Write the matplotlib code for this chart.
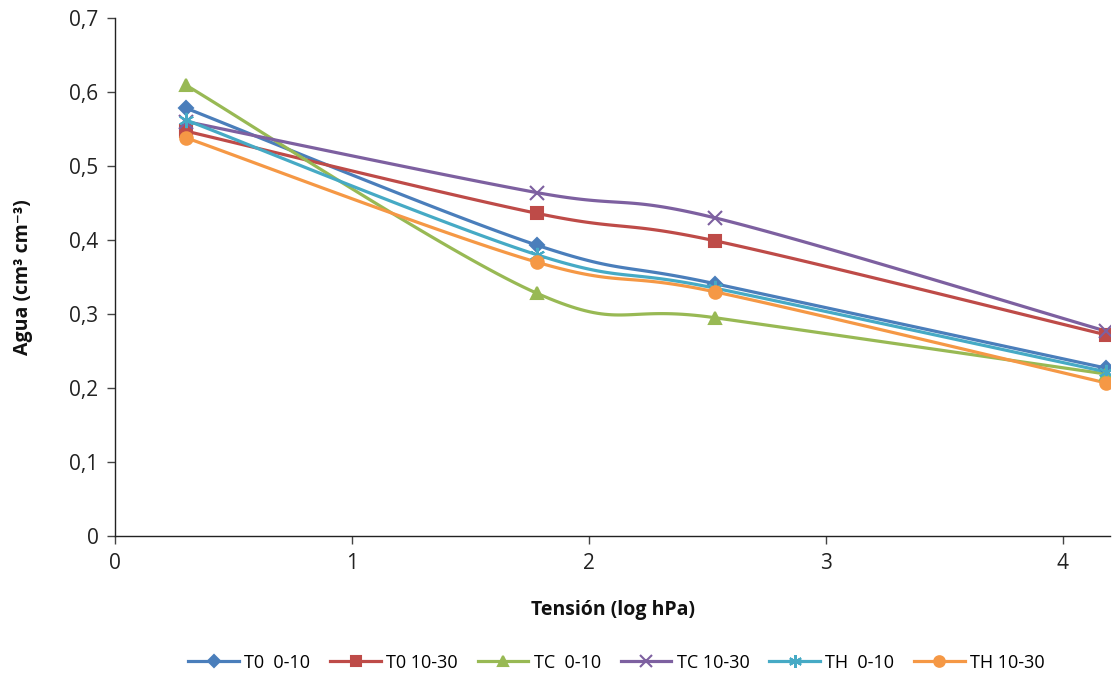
import numpy as np
import matplotlib
matplotlib.use("Agg")
import matplotlib.pyplot as plt
from matplotlib.ticker import FuncFormatter, MultipleLocator

plt.rcParams['font.family'] = ['Open Sans', 'DejaVu Sans']

# Tension (log hPa)
tension = [0.3, 1.78, 2.53, 4.18]

t0_0_10 = [0.578, 0.393, 0.341, 0.227]
t0_10_30 = [0.547, 0.436, 0.399, 0.272]
tc_0_10 = [0.609, 0.328, 0.295, 0.219]
tc_10_30 = [0.560, 0.464, 0.430, 0.277]
th_0_10 = [0.562, 0.380, 0.335, 0.222]
th_10_30 = [0.538, 0.370, 0.330, 0.207]

labels = ["T0  0-10", "T0 10-30", "TC  0-10", "TC 10-30", "TH  0-10", "TH 10-30"]
series = [t0_0_10, t0_10_30, tc_0_10, tc_10_30, th_0_10, th_10_30]
colors = ["#4A7EBB", "#BE4B48", "#98B954", "#7D60A0", "#46AAC5", "#F59845"]
markers = ["D", "s", "^", "x", (6, 2, 0), "o"]
msizes = [7, 9, 9, 10, 11, 9]


def smooth(x, y, n=40):
    """Bezier smoothing through the points (cardinal spline)."""
    x = np.asarray(x, float)
    y = np.asarray(y, float)
    px = np.concatenate([[x[0]], x, [x[-1]]])
    py = np.concatenate([[y[0]], y, [y[-1]]])
    xs, ys = [], []
    t = np.linspace(0, 1, n)
    for i in range(1, len(px) - 2):
        p0 = np.array([px[i], py[i]])
        p3 = np.array([px[i + 1], py[i + 1]])
        c1 = p0 + (np.array([px[i + 1], py[i + 1]]) - np.array([px[i - 1], py[i - 1]])) / 6
        c2 = p3 - (np.array([px[i + 2], py[i + 2]]) - np.array([px[i], py[i]])) / 6
        b = ((1 - t) ** 3)[:, None] * p0 + (3 * (1 - t) ** 2 * t)[:, None] * c1 \
            + (3 * (1 - t) * t ** 2)[:, None] * c2 + (t ** 3)[:, None] * p3
        xs.extend(b[:, 0])
        ys.extend(b[:, 1])
    return np.array(xs), np.array(ys)


fig = plt.figure(figsize=(11.17, 6.79), dpi=100)
ax = fig.add_axes([0.103, 0.2106, 0.891, 0.763])

for vals, lab, col, mk, ms in zip(series, labels, colors, markers, msizes):
    sx, sy = smooth(tension, vals)
    ax.plot(sx, sy, color=col, lw=2.3, solid_capstyle='round', zorder=2)
    ax.plot(tension, vals, linestyle='none', marker=mk, markersize=ms,
            color=col, markeredgecolor=col, markeredgewidth=1.5, zorder=3)
    ax.plot([], [], color=col, lw=2.3, marker=mk, markersize=ms,
            markeredgecolor=col, markeredgewidth=1.5, label=lab)

ax.set_xlim(0, 4.2)
ax.set_ylim(0, 0.7)
ax.xaxis.set_major_locator(MultipleLocator(1))
ax.yaxis.set_major_locator(MultipleLocator(0.1))
ax.yaxis.set_major_formatter(FuncFormatter(lambda v, p: "0" if abs(v) < 1e-9 else f"{v:.1f}".replace(".", ",")))
ax.xaxis.set_major_formatter(FuncFormatter(lambda v, p: f"{v:.0f}"))

for s in ["top", "right"]:
    ax.spines[s].set_visible(False)
for s in ["left", "bottom"]:
    ax.spines[s].set_color("#222222")
    ax.spines[s].set_linewidth(1.0)
ax.tick_params(axis='both', direction='out', length=6, width=1, color="#444444",
               labelsize=15, labelcolor="#222222", pad=6)

ax.set_xlabel("Tensión (log hPa)", fontsize=14, fontweight='bold', labelpad=19, color="#111111")
ax.set_ylabel("Agua (cm³ cm⁻³)", fontsize=14, fontweight='bold', labelpad=26, color="#111111")

fig.legend(loc='center', bbox_to_anchor=(0.552, 0.024), ncol=6, frameon=False,
           fontsize=13, handlelength=2.8, handletextpad=0.3, columnspacing=1.1,
           markerscale=0.85)

fig.savefig("out.png", dpi=100)
